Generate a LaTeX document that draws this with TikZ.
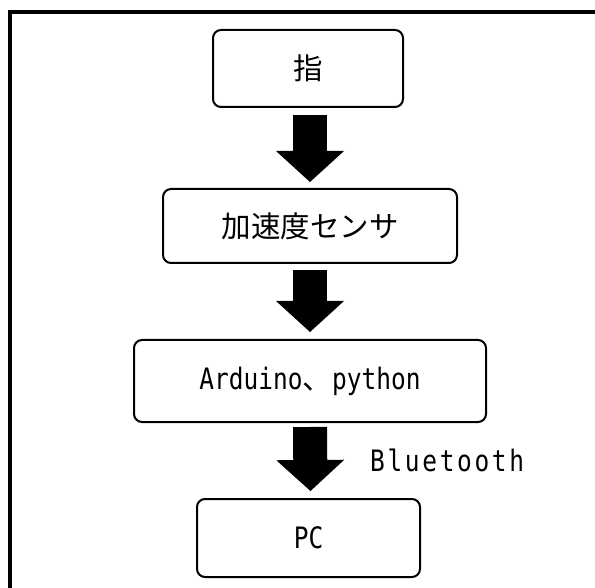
\documentclass[tikz,border=0pt]{standalone}
\usepackage{fontspec}
\usetikzlibrary{arrows.meta}
\newfontfamily\jpfont{Noto Sans CJK JP}
\newfontfamily\latfont[FakeStretch=0.83]{DejaVu Sans Mono}
\newcommand\sq[1]{\makebox[17.4pt][l]{#1}}
\tikzset{
  box/.style={draw, line width=2pt, rounded corners=8pt, inner sep=0pt,
    font=\fontsize{29.5}{34}\selectfont},
  blockarrow/.style={line width=34pt,
    -{Triangle[width=68pt,length=31pt,line width=0pt]}},
  frame/.style={line width=4pt}
}
\begin{document}
\begin{tikzpicture}[x=1pt,y=-1pt]
\useasboundingbox (0,0) rectangle (595,588);
\fill[white] (0,0) rectangle (595,588);
\draw[frame] (9.5,588) -- (9.5,12) -- (595,12);

\node[box, minimum width=190pt, minimum height=77pt] (f) at (308,68.5) {\jpfont 指};
\node[box, minimum width=294pt, minimum height=74pt] (s) at (310,226) {\jpfont 加速度センサ};
\node[box, minimum width=352pt, minimum height=82pt] (a) at (310,381) {\latfont Arduino{\jpfont 、}python};
\node[box, minimum width=223pt, minimum height=78pt] (pc) at (308.5,538) {\latfont PC};

\draw[blockarrow] ([xshift=2pt,yshift=-7pt]f.south) -- ([xshift=0pt,yshift=6pt]s.north);
\draw[blockarrow] ([yshift=-6pt]s.south) -- ([yshift=7pt]a.north);
\draw[blockarrow] ([yshift=-4pt]a.south) -- ([xshift=2pt,yshift=7pt]pc.north);

\node[anchor=base west, inner sep=0pt, font=\fontsize{29.5}{34}\selectfont\latfont] (bt) at (370,471)
  {\sq B\sq l\sq u\sq e\sq t\sq o\sq o\sq t\sq h};
\end{tikzpicture}
\end{document}
